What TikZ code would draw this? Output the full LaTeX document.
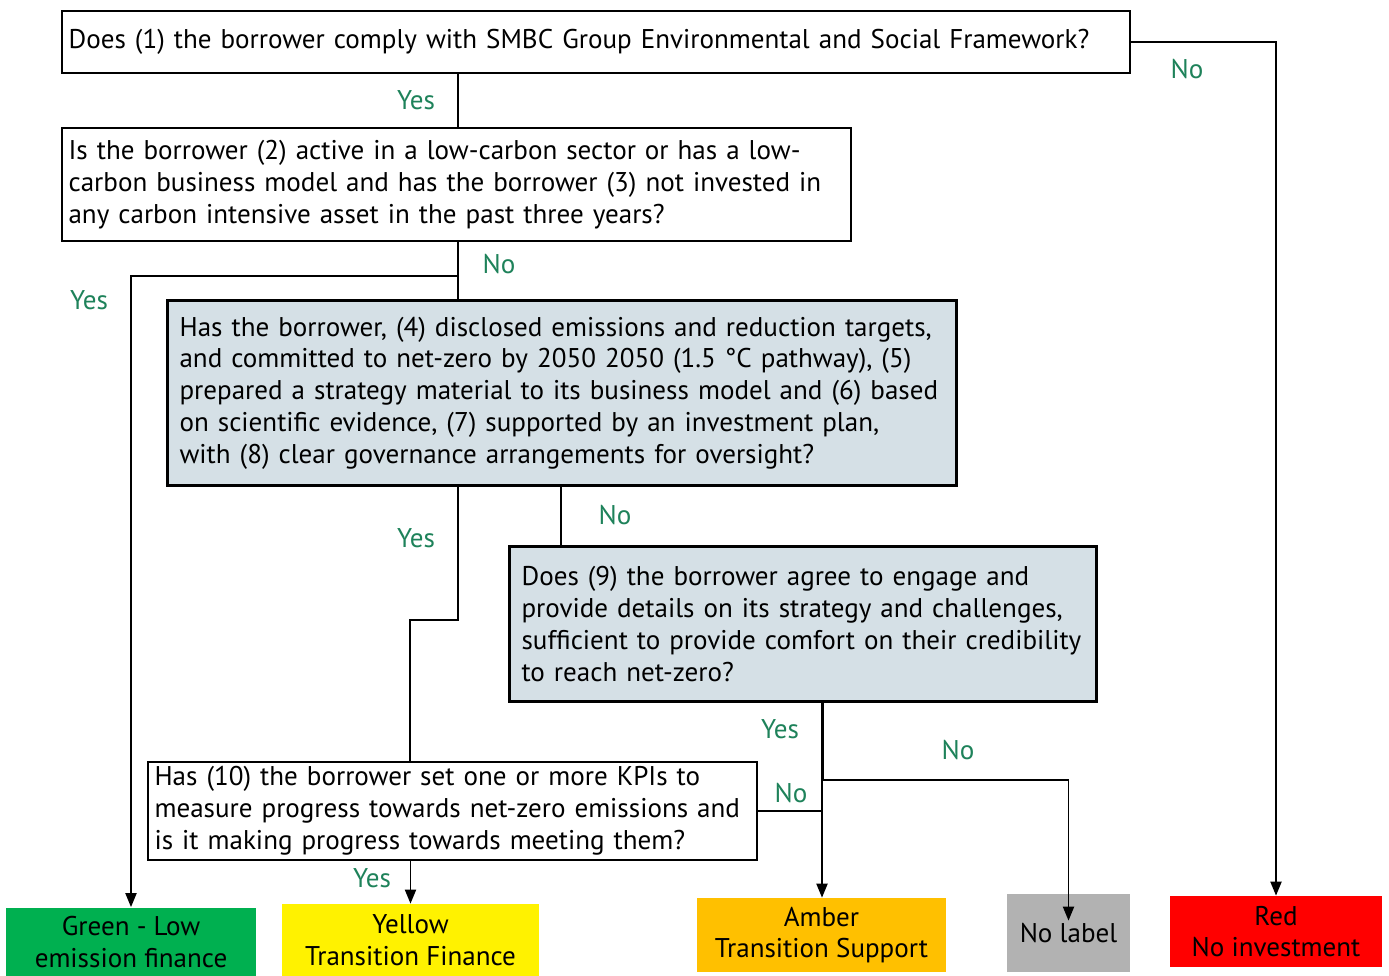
\documentclass[tikz,border=0pt]{standalone}
\usepackage{fontspec}
\setmainfont{PT Sans}
\usetikzlibrary{arrows.meta}
\definecolor{yesno}{RGB}{30,130,90}
\definecolor{qfill}{RGB}{213,224,230}
\definecolor{gfill}{RGB}{0,176,80}
\definecolor{afill}{RGB}{255,192,0}
\definecolor{nfill}{RGB}{178,178,178}
\tikzset{
	qbox/.style={draw, line width=1.1pt, align=left, inner xsep=0.13cm, inner ysep=0pt},
	qboxhi/.style={qbox, fill=qfill, line width=1.7pt, inner xsep=0.25cm},
	outbox/.style={align=center, inner sep=0pt},
	lbl/.style={text=yesno, inner sep=0pt},
	line/.style={line width=1.1pt},
	arr/.style={line width=1.1pt, -{Triangle[length=0.28cm,width=0.22cm]}}
}

\begin{document}
\begin{tikzpicture}[x=0.02cm, y=-0.02cm, font=\fontsize{15.4}{18.1}\selectfont]
			%%%%% START %%%%%
			\useasboundingbox (0,0) rectangle (1389,976);
			
			% questions
			\node[qbox, minimum width=21.36cm, minimum height=1.24cm, text width=21.1cm] (q1) at (596,42)
				{Does (1) the borrower comply with SMBC Group Environmental and Social Framework?};
			\node[qbox, minimum width=15.78cm, minimum height=2.26cm, text width=15.52cm] (q2) at (456.5,184.5)
				{Is the borrower (2) active in a low-carbon sector or has a low-\\carbon business model and has the borrower (3) not invested in\\any carbon intensive asset in the past three years?};
			\node[qboxhi, minimum width=15.8cm, minimum height=3.72cm, text width=15.3cm] (q3) at (562,393)
				{Has the borrower, (4) disclosed emissions and reduction targets,\\and committed to net-zero by 2050 2050 (1.5 \textdegree C pathway), (5)\\prepared a strategy material to its business model and (6) based\\on scientific evidence, (7) supported by an investment plan,\\with (8) clear governance arrangements for oversight?};
			\node[qboxhi, minimum width=11.76cm, minimum height=3.12cm, text width=11.26cm] (q4) at (803,624)
				{Does (9) the borrower agree to engage and\\provide details on its strategy and challenges,\\sufficient to provide comfort on their credibility\\to reach net-zero?};
			\node[qbox, minimum width=12.18cm, minimum height=1.96cm, text width=11.92cm] (q5) at (452.5,811)
				{Has (10) the borrower set one or more KPIs to\\measure progress towards net-zero emissions and\\is it making progress towards meeting them?};
			
			% outcomes
			\node[outbox, fill=gfill, minimum width=5cm, minimum height=1.38cm] (green) at (131,942) {Green - Low\\emission finance};
			\node[outbox, fill=yellow, minimum width=5.14cm, minimum height=1.44cm] (yellow) at (410.5,940) {Yellow\\Transition Finance};
			\node[outbox, fill=afill, minimum width=4.98cm, minimum height=1.48cm] (amber) at (821.5,935) {Amber\\Transition Support};
			\node[outbox, fill=nfill, minimum width=2.46cm, minimum height=1.56cm] (nolabel) at (1068.5,933) {No label};
			\node[outbox, fill=red, minimum width=4.24cm, minimum height=1.42cm] (red) at (1276,931.5) {Red\\No investment};
			
			% bends
			\coordinate (s1) at (458,276);
			\coordinate (s2) at (458,620);
			\coordinate (s3) at (410,620);
			\coordinate (s4) at (561,516);
			\coordinate (s5) at (822,780);
			
			% connectors
			\draw[arr] (q1.east) -| (red.north);
			\draw[line] (s1 |- q1.south) -- (s1 |- q2.north);
			\draw[line, line width=1.7pt] (s1 |- q2.south) -- (s1 |- q3.north);
			\draw[arr] (s1) -| (green.north);
			\draw[line] (s2 |- q3.south) -- (s2) -- (s3) -- (s3 |- q5.north);
			\draw[line] (s4 |- q3.south) -- (s4 |- q4.north);
			\draw[arr] (q5.south -| yellow.north) -- (yellow.north);
			\draw[line, line width=1.7pt] (q4.south -| s5) -- (s5);
			\draw[arr] (s5) -- (s5 |- amber.north);
			\draw[arr] (s5) -| ([yshift=-0.54cm]nolabel.north);
			\draw[line] (q5.east) -- (q5.east -| s5);
			
			% yes / no
			\node[lbl] (l1) at (1187,69) {No};
			\node[lbl] (l2) at (416,100) {Yes};
			\node[lbl] (l3) at (499,264) {No};
			\node[lbl] (l4) at (89,300) {Yes};
			\node[lbl] (l5) at (416,538) {Yes};
			\node[lbl] (l6) at (615,515) {No};
			\node[lbl] (l7) at (780,729) {Yes};
			\node[lbl] (l8) at (958,750) {No};
			\node[lbl] (l9) at (791,793) {No};
			\node[lbl] (l10) at (372,878) {Yes};
			
			%%%%% END %%%%%
\end{tikzpicture}
\end{document}
